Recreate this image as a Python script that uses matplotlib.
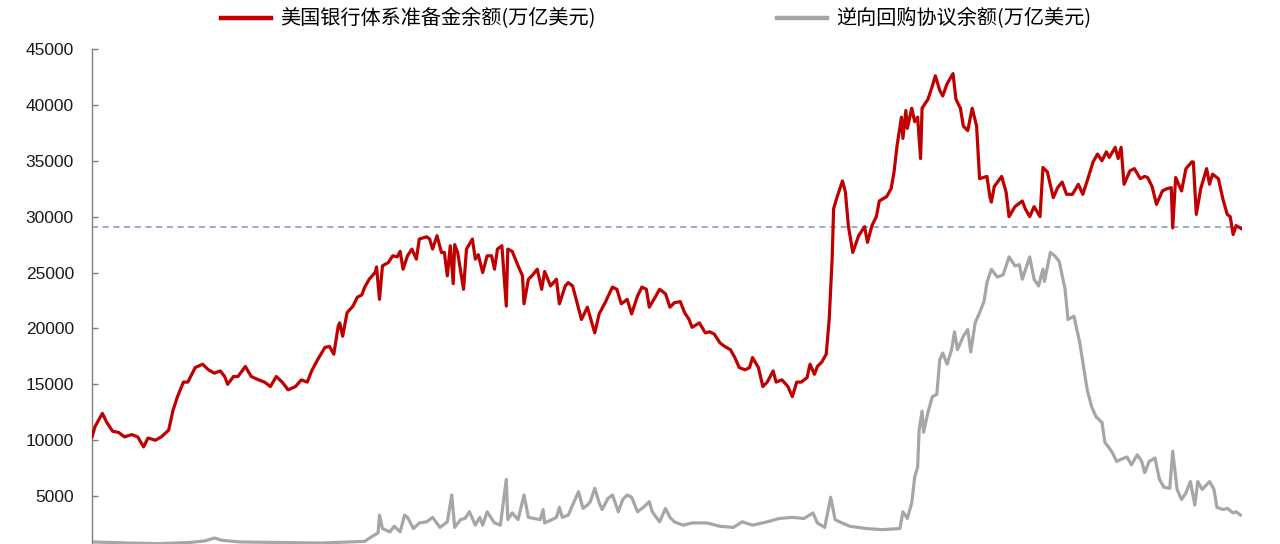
import matplotlib
matplotlib.use("Agg")
import matplotlib.pyplot as plt
from matplotlib.lines import Line2D

plt.rcParams["font.family"] = ["Liberation Sans", "Noto Sans CJK SC", "DejaVu Sans"]

# ---------------------------------------------------------------------------
# Data (x = week index from the start of the series)
# ---------------------------------------------------------------------------

reserve_label = "美国银行体系准备金余额(万亿美元)"
rrp_label = "逆向回购协议余额(万亿美元)"

# US bank reserves
reserve_week = [
    0, 2, 7, 10, 14, 18, 22, 27, 31, 35, 38, 43, 47, 52, 55, 58, 62, 65, 70, 75,
    79, 83, 87, 90, 92, 96, 99, 104, 108, 113, 117, 121, 125, 129, 133, 138, 142,
    146, 149, 153, 158, 161, 164, 167, 168, 170, 173, 177, 180, 183, 185, 188, 192,
    193, 195, 197, 201, 204, 207, 209, 211, 214, 217, 220, 222, 227, 229, 231, 234,
    237, 239, 241, 243, 245, 246, 248, 252, 254, 258, 260, 262, 265, 268, 271, 273,
    275, 278, 281, 282, 285, 289, 292, 293, 296, 299, 302, 305, 307, 311, 315, 317,
    321, 323, 326, 329, 332, 336, 339, 341, 344, 348, 353, 356, 359, 363, 366, 370,
    373, 376, 378, 382, 385, 389, 392, 395, 399, 402, 405, 407, 412, 416, 419, 422,
    426, 429, 433, 436, 439, 443, 446, 448, 452, 455, 458, 462, 464, 468, 472, 475,
    478, 481, 485, 487, 490, 492, 495, 498, 500, 502, 503, 505, 509, 511, 513, 516,
    520, 524, 526, 529, 532, 534, 539, 542, 544, 546, 549, 550, 552, 553, 556, 558,
    560, 562, 563, 567, 570, 572, 575, 577, 580, 584, 586, 589, 591, 594, 597, 600,
    602, 607, 609, 610, 612, 617, 620, 622, 626, 631, 633, 636, 639, 643, 645, 648,
    652, 655, 658, 661, 665, 669, 672, 675, 679, 682, 685, 688, 690, 694, 696, 698,
    700, 704, 707, 711, 714, 716, 719, 722, 726, 729, 732, 733, 735, 739, 742, 746,
    747, 749, 752, 756, 758, 760, 764, 767, 770, 772, 774, 776, 780,
]
reserve_value = [
    10300, 11200, 12400, 11600, 10800, 10700, 10300, 10500, 10300, 9400, 10200,
    10000, 10300, 10900, 12700, 13900, 15200, 15200, 16500, 16800, 16300, 16000,
    16200, 15700, 15000, 15700, 15700, 16600, 15700, 15400, 15200, 14800, 15700,
    15200, 14500, 14800, 15400, 15200, 16200, 17200, 18300, 18400, 17700, 20200,
    20500, 19300, 21400, 22000, 22800, 23000, 23700, 24400, 25000, 25500, 22600,
    25600, 25900, 26500, 26400, 26900, 25300, 26500, 27100, 26200, 28000, 28200,
    28000, 27100, 28300, 26800, 26800, 24700, 27400, 24000, 27500, 26800, 23500,
    27100, 28000, 26200, 26600, 25000, 26500, 26500, 25300, 27100, 27400, 22000,
    27100, 26900, 25600, 24700, 22200, 24400, 24800, 25300, 23500, 25100, 23800,
    24400, 22200, 23800, 24100, 23800, 22300, 20800, 21900, 20500, 19600, 21300,
    22300, 23700, 23500, 22200, 22600, 21300, 22900, 23700, 23500, 21900, 22800,
    23500, 23100, 21900, 22300, 22400, 21400, 20800, 20100, 20500, 19600, 19700,
    19500, 18700, 18400, 18100, 17400, 16500, 16300, 16500, 17400, 16500, 14800,
    15200, 16200, 15200, 15400, 14800, 13900, 15200, 15200, 15600, 16800, 15900,
    16600, 17000, 17700, 20800, 26200, 30700, 31600, 33200, 32200, 29200, 26800,
    28300, 29100, 27700, 29200, 30000, 31400, 31800, 32500, 34000, 36300, 38900,
    37000, 39500, 37900, 39700, 38500, 38900, 35200, 39700, 40500, 41700, 42600,
    41300, 40800, 41900, 42800, 40500, 39700, 38100, 37700, 39700, 38100, 33400,
    33600, 31800, 31300, 32700, 33600, 32200, 30000, 30900, 31400, 30700, 30000,
    30900, 30000, 34400, 34000, 31700, 32600, 33100, 32000, 32000, 32900, 32000,
    33200, 34900, 35600, 35000, 35800, 35300, 36200, 35200, 36200, 32900, 34100,
    34300, 33400, 33600, 33500, 32700, 31100, 32300, 32500, 32600, 29000, 33500,
    32300, 34300, 34900, 34900, 30200, 32500, 34300, 32900, 33800, 33400, 31600,
    30200, 30000, 28400, 29200, 28900,
]

# Reverse repo balance
rrp_week = [
    0, 26, 46, 66, 77, 83, 88, 100, 127, 155, 175, 185, 190, 194, 195, 197, 202,
    205, 209, 212, 214, 218, 222, 227, 231, 236, 241, 244, 246, 250, 253, 256, 260,
    263, 265, 268, 273, 277, 281, 282, 285, 289, 293, 296, 300, 304, 306, 307, 312,
    315, 317, 319, 323, 326, 330, 333, 336, 338, 341, 344, 346, 350, 353, 357, 360,
    363, 366, 370, 374, 378, 380, 385, 389, 392, 395, 401, 407, 417, 426, 435, 441,
    448, 458, 466, 475, 483, 489, 492, 497, 501, 504, 507, 514, 525, 536, 548, 550,
    553, 556, 558, 560, 561, 563, 564, 567, 570, 573, 575, 577, 580, 583, 585, 587,
    591, 594, 596, 599, 602, 605, 607, 610, 614, 618, 622, 626, 629, 631, 636, 639,
    642, 645, 646, 650, 653, 656, 660, 662, 666, 670, 672, 675, 678, 681, 685, 687,
    690, 692, 695, 698, 702, 705, 709, 712, 714, 717, 721, 724, 727, 731, 733, 736,
    739, 742, 745, 748, 750, 753, 758, 761, 763, 767, 770, 774, 776, 779,
]
rrp_value = [
    900, 800, 750, 850, 1000, 1250, 1050, 900, 850, 800, 900, 950, 1400, 1700, 3300,
    2100, 1800, 2300, 1800, 3300, 3100, 2100, 2600, 2700, 3100, 2200, 2700, 5100,
    2200, 2900, 3000, 3600, 2400, 3100, 2400, 3600, 2600, 2400, 6500, 2900, 3500,
    2900, 5100, 3100, 3000, 2900, 3800, 2600, 2900, 3100, 4000, 3100, 3300, 4200,
    5400, 3900, 4200, 4500, 5700, 4400, 3800, 4800, 5100, 3600, 4700, 5100, 4900,
    3600, 4000, 4500, 3600, 2700, 3900, 3100, 2700, 2400, 2600, 2600, 2300, 2200,
    2700, 2400, 2700, 3000, 3100, 3000, 3500, 2600, 2200, 4900, 2900, 2700, 2300,
    2100, 2000, 2100, 3600, 3000, 4400, 6700, 7600, 10900, 12600, 10700, 12500,
    13900, 14100, 17200, 17800, 16800, 18100, 19700, 18100, 19300, 19900, 17900,
    20500, 21400, 22400, 24100, 25300, 24600, 24800, 26400, 25600, 25700, 24400,
    26400, 24400, 23800, 25300, 24200, 26800, 26500, 26000, 23500, 20800, 21100,
    18700, 17000, 14500, 13000, 12100, 11600, 9800, 9300, 8900, 8100, 8300, 8500,
    7800, 8700, 8100, 7100, 8100, 8400, 6500, 5800, 5700, 9000, 5600, 4700, 5300,
    6300, 4200, 6300, 5600, 6300, 5600, 4000, 3800, 3900, 3500, 3600, 3300,
]

reference_level = 29100
y_ticks = [5000, 10000, 15000, 20000, 25000, 30000, 35000, 40000, 45000]

RED = "#C00000"
GREY = "#A6A6A6"

# ---------------------------------------------------------------------------
# Figure
# ---------------------------------------------------------------------------

fig = plt.figure(figsize=(12.8, 5.44), dpi=100)
# axis zero sits just below the bottom edge of the picture, as in the source
ax = fig.add_axes([92 / 1280, -8 / 544, 1150 / 1280, 503 / 544])

ax.plot(reserve_week, reserve_value, color=RED, lw=2.3, solid_joinstyle="round", zorder=3)
ax.plot(rrp_week, rrp_value, color=GREY, lw=2.3, solid_joinstyle="round", zorder=2)
ax.axhline(reference_level, color="#7F96B8", lw=1.1, ls=(0, (4, 3)), zorder=1)

ax.set_xlim(0, 780)
ax.set_ylim(0, 45000)
ax.set_yticks(y_ticks)
ax.set_yticklabels([str(t) for t in y_ticks])
ax.set_xticks([])

for side in ["top", "right", "bottom"]:
    ax.spines[side].set_visible(False)
ax.spines["left"].set_color("#7F7F7F")
ax.spines["left"].set_linewidth(1.0)
ax.tick_params(axis="y", direction="in", length=4, width=1, color="#7F7F7F",
               labelsize=12.5, pad=13, labelcolor="#1A1A1A")

handles = [
    Line2D([], [], color=RED, lw=3.2),
    Line2D([], [], color=GREY, lw=3.2),
]
fig.legend(handles, [reserve_label, rrp_label], loc="center",
           bbox_to_anchor=(656 / 1280, 1 - 19 / 544), ncol=2, frameon=False,
           prop={"family": ["Noto Sans CJK SC", "DejaVu Sans"], "size": 14.5},
           handlelength=2.5, handletextpad=0.45, columnspacing=9.0)

fig.savefig("out.png", dpi=100, facecolor="white")
